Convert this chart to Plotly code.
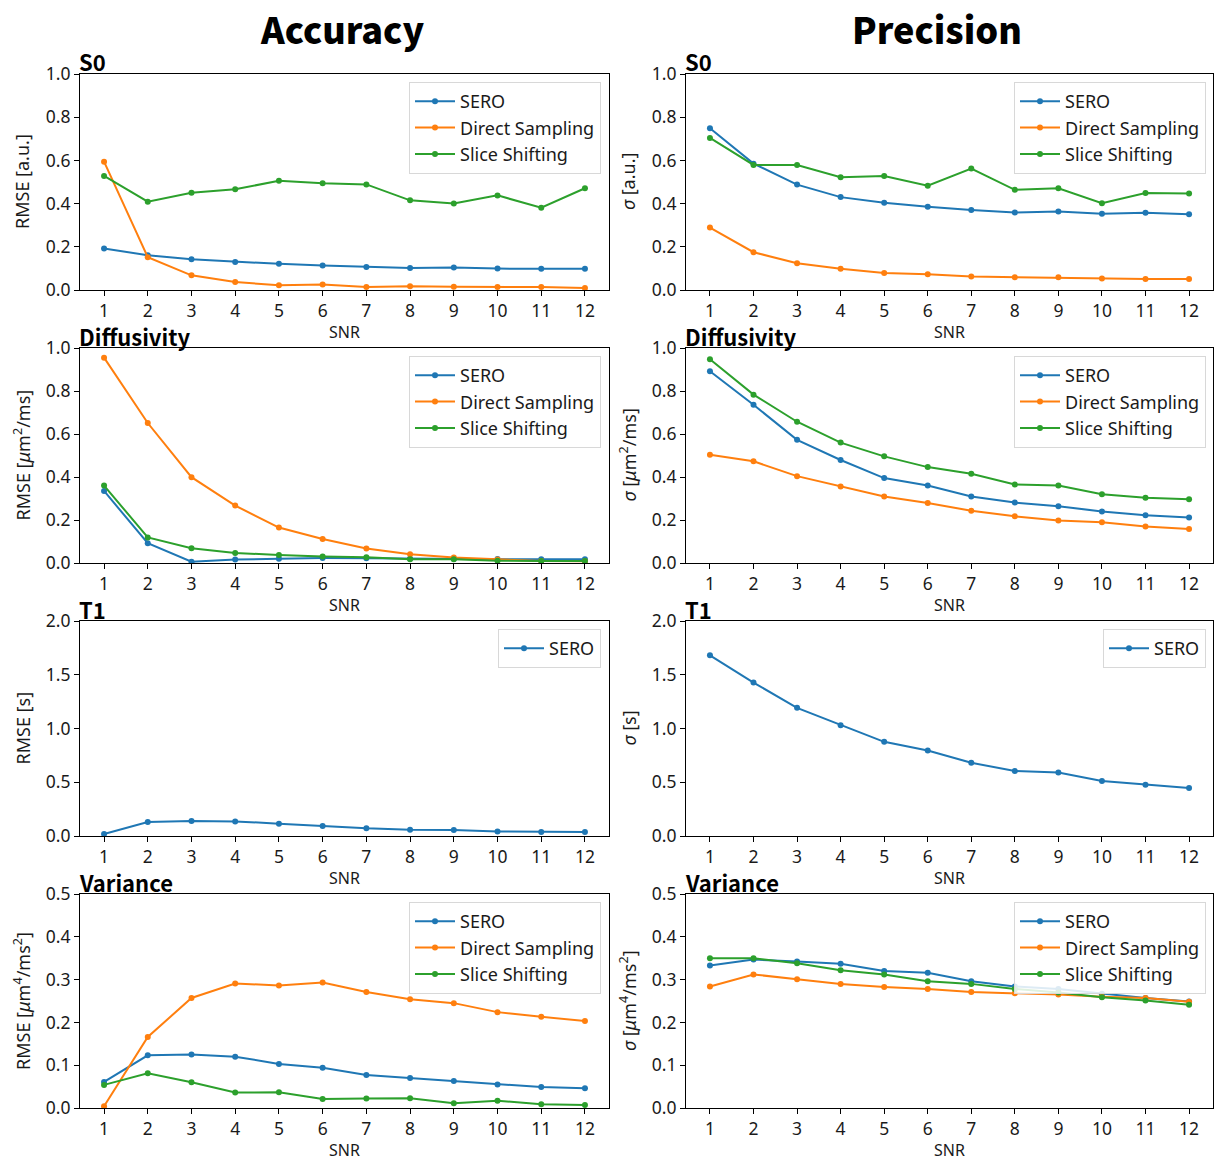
import plotly.graph_objects as go

W, H = 1216, 1160

snr = [1, 2, 3, 4, 5, 6, 7, 8, 9, 10, 11, 12]
series_names = ["SERO", "Direct Sampling", "Slice Shifting"]

# Accuracy (RMSE)
s0_rmse_sero = [0.192, 0.161, 0.142, 0.130, 0.121, 0.113, 0.107, 0.102, 0.104, 0.099, 0.098, 0.098]
s0_rmse_ds = [0.594, 0.152, 0.068, 0.037, 0.022, 0.025, 0.014, 0.017, 0.015, 0.014, 0.014, 0.009]
s0_rmse_ss = [0.528, 0.409, 0.450, 0.466, 0.506, 0.494, 0.489, 0.415, 0.401, 0.438, 0.381, 0.471]

d_rmse_sero = [0.335, 0.092, 0.006, 0.016, 0.020, 0.023, 0.022, 0.020, 0.019, 0.019, 0.017, 0.017]
d_rmse_ds = [0.955, 0.651, 0.399, 0.267, 0.165, 0.112, 0.067, 0.041, 0.025, 0.016, 0.009, 0.008]
d_rmse_ss = [0.360, 0.119, 0.069, 0.047, 0.037, 0.030, 0.027, 0.017, 0.017, 0.011, 0.009, 0.009]

t1_rmse_sero = [0.019, 0.130, 0.139, 0.136, 0.115, 0.093, 0.071, 0.059, 0.056, 0.043, 0.037, 0.037]

v_rmse_sero = [0.061, 0.123, 0.125, 0.120, 0.103, 0.094, 0.077, 0.070, 0.063, 0.055, 0.049, 0.046]
v_rmse_ds = [0.004, 0.166, 0.257, 0.291, 0.286, 0.293, 0.271, 0.254, 0.245, 0.224, 0.213, 0.203]
v_rmse_ss = [0.054, 0.081, 0.060, 0.036, 0.037, 0.021, 0.022, 0.023, 0.011, 0.017, 0.009, 0.007]

# Precision (sigma)
s0_sd_sero = [0.749, 0.585, 0.488, 0.430, 0.404, 0.385, 0.370, 0.359, 0.364, 0.353, 0.358, 0.351]
s0_sd_ds = [0.289, 0.175, 0.124, 0.098, 0.079, 0.073, 0.062, 0.059, 0.059, 0.053, 0.051, 0.051]
s0_sd_ss = [0.704, 0.579, 0.579, 0.522, 0.528, 0.483, 0.562, 0.464, 0.471, 0.402, 0.449, 0.447]

d_sd_sero = [0.892, 0.736, 0.573, 0.479, 0.395, 0.360, 0.309, 0.281, 0.264, 0.240, 0.222, 0.212]
d_sd_ds = [0.504, 0.473, 0.404, 0.356, 0.309, 0.279, 0.243, 0.217, 0.198, 0.189, 0.170, 0.158]
d_sd_ss = [0.948, 0.783, 0.657, 0.560, 0.496, 0.446, 0.415, 0.365, 0.360, 0.320, 0.304, 0.296]

t1_sd_sero = [1.681, 1.427, 1.192, 1.031, 0.876, 0.796, 0.681, 0.604, 0.591, 0.511, 0.477, 0.446]

v_sd_sero = [0.333, 0.347, 0.342, 0.337, 0.320, 0.316, 0.296, 0.284, 0.278, 0.267, 0.257, 0.249]
v_sd_ds = [0.284, 0.312, 0.301, 0.290, 0.283, 0.278, 0.271, 0.268, 0.265, 0.260, 0.257, 0.248]
v_sd_ss = [0.350, 0.350, 0.338, 0.322, 0.312, 0.296, 0.290, 0.278, 0.270, 0.259, 0.251, 0.241]

col_titles = ["Accuracy", "Precision"]
row_titles = ["S0", "Diffusivity", "T1", "Variance"]
y_max = [1.0, 1.0, 2.0, 0.5]
y_dtick = [0.2, 0.2, 0.5, 0.1]
ylabels_left = ["RMSE [a.u.]", "RMSE [<i>μ</i>m<sup>2</sup>/ms]", "RMSE [s]",
                "RMSE [<i>μ</i>m<sup>4</sup>/ms<sup>2</sup>]"]
ylabels_right = ["<i>σ</i> [a.u.]", "<i>σ</i> [<i>μ</i>m<sup>2</sup>/ms]", "<i>σ</i> [s]",
                 "<i>σ</i> [<i>μ</i>m<sup>4</sup>/ms<sup>2</sup>]"]

panels = [
    [[s0_rmse_sero, s0_rmse_ds, s0_rmse_ss], [s0_sd_sero, s0_sd_ds, s0_sd_ss]],
    [[d_rmse_sero, d_rmse_ds, d_rmse_ss], [d_sd_sero, d_sd_ds, d_sd_ss]],
    [[t1_rmse_sero], [t1_sd_sero]],
    [[v_rmse_sero, v_rmse_ds, v_rmse_ss], [v_sd_sero, v_sd_ds, v_sd_ss]],
]

colors = ["#1f77b4", "#ff7f0e", "#2ca02c"]
FONT = "Noto Sans, DejaVu Sans, sans-serif"
TFONT = "Noto Sans CJK KR, Noto Sans, sans-serif"

col_x = [(80, 609), (686, 1213)]
row_y = [(74, 290), (348, 563), (621, 836), (894, 1108)]
col_title_x = [342, 937]
legend_right = [601, 1206]
legend_top_off = 8


def px(x):
    return x / W


def py(y):
    return 1 - y / H


fig = go.Figure()
layout = {}
annotations = []

idx = 0
for r in range(4):
    for c in range(2):
        idx += 1
        xa = "x" if idx == 1 else f"x{idx}"
        ya = "y" if idx == 1 else f"y{idx}"
        lg = "legend" if idx == 1 else f"legend{idx}"
        data = panels[r][c]
        for k, vals in enumerate(data):
            fig.add_trace(go.Scatter(
                x=snr, y=vals, mode="lines+markers", name=series_names[k],
                line=dict(color=colors[k], width=2),
                marker=dict(color=colors[k], size=6),
                xaxis=xa, yaxis=ya, legend=lg, showlegend=True,
            ))
        x0, x1 = col_x[c]
        y0, y1 = row_y[r]
        axis_common = dict(
            showline=True, linecolor="black", linewidth=1, mirror=True,
            ticks="outside", ticklen=5, tickwidth=1, tickcolor="black",
            showgrid=False, zeroline=False, automargin=False,
            tickfont=dict(family=FONT, size=17.5, color="#1a1a1a"),
        )
        layout[("xaxis" if idx == 1 else f"xaxis{idx}")] = dict(
            domain=[px(x0), px(x1)], anchor=ya, range=[0.45, 12.55],
            tickmode="array", tickvals=snr, ticktext=[str(s) for s in snr],
            **axis_common,
        )
        layout[("yaxis" if idx == 1 else f"yaxis{idx}")] = dict(
            domain=[py(y1), py(y0)], anchor=xa, range=[0, y_max[r]],
            dtick=y_dtick[r], tickformat=".1f",
            **axis_common,
        )
        layout[lg] = dict(
            x=px(legend_right[c]), xanchor="right", xref="paper",
            y=py(y0 + legend_top_off), yanchor="top", yref="paper",
            bgcolor="rgba(255,255,255,0.85)", bordercolor="#d8d8d8", borderwidth=1,
            itemwidth=40,
            font=dict(family=FONT, size=18, color="#1a1a1a"),
        )
        # subplot title
        annotations.append(dict(
            text=row_titles[r], x=px(x0 - 3), y=py(y0 - 12.5), xref="paper", yref="paper",
            xanchor="left", yanchor="middle", showarrow=False,
            font=dict(family=TFONT, size=22, color="black", weight="bold"),
        ))
        # x label
        annotations.append(dict(
            text="SNR", x=px((x0 + x1) / 2), y=py(y1 + 42), xref="paper", yref="paper",
            xanchor="center", yanchor="middle", showarrow=False,
            font=dict(family=FONT, size=16, color="#1a1a1a"),
        ))
        # y label
        ylab = ylabels_left[r] if c == 0 else ylabels_right[r]
        annotations.append(dict(
            text=ylab, x=px(x0 - 58), y=py((y0 + y1) / 2), xref="paper", yref="paper",
            xanchor="center", yanchor="middle", textangle=-90, showarrow=False,
            font=dict(family=FONT, size=18, color="#1a1a1a"),
        ))

for c in range(2):
    annotations.append(dict(
        text=col_titles[c], x=px(col_title_x[c]), y=1, xref="paper", yref="paper",
        xanchor="center", yanchor="top", showarrow=False,
        font=dict(family=TFONT, size=36, color="black", weight=900),
    ))

fig.update_layout(
    template="none",
    width=W, height=H, margin=dict(l=0, r=0, t=0, b=0, pad=0),
    paper_bgcolor="white", plot_bgcolor="white",
    annotations=annotations, **layout,
)

fig.write_html("out.html")
